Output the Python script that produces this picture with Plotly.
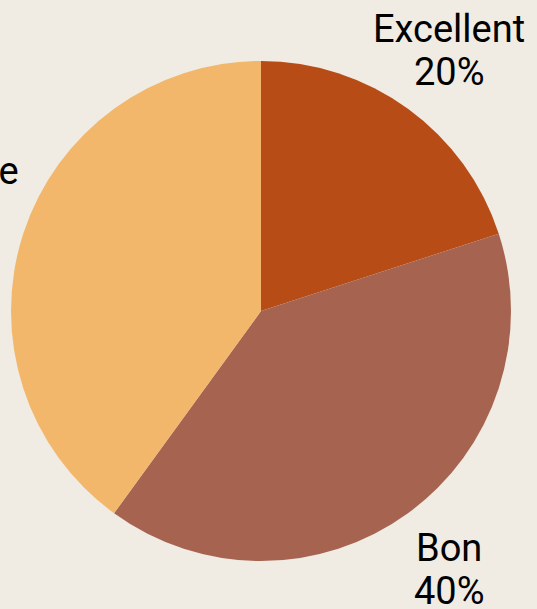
import math
import plotly.graph_objects as go

labels = ["Excellent", "Bon", "Moyenne"]
values = [20, 40, 40]
colors = ["#b84c17", "#a66450", "#f2b76b"]

FONT = dict(family="Roboto", size=38, color="#000000")
LABEL_DIST = 1.28                       # label centre distance in radii
LABEL_NUDGE = [(0, 2), (0, 0), (-15, 20)]  # small px nudges (x, up)
LINE_GAP = 43                           # px between label lines

fig = go.Figure(go.Pie(
    labels=labels,
    values=values,
    marker=dict(colors=colors),
    textinfo="none",
    sort=False,
    direction="clockwise",
    rotation=0,
    showlegend=False,
    hoverinfo="label+percent",
    domain=dict(x=[0, 1], y=[0, 1]),
))

# outside labels placed at each slice's mid angle
total = sum(values)
cum = 0
for lab, v, (nx, ny) in zip(labels, values, LABEL_NUDGE):
    mid = (cum + v / 2) / total * 2 * math.pi
    cum += v
    x = 0.5 + 0.5 * LABEL_DIST * math.sin(mid)
    y = 0.5 + 0.5 * LABEL_DIST * math.cos(mid)
    pct = f"{round(v / total * 100)}%"
    for txt, shift in ((lab, LINE_GAP / 2), (pct, -LINE_GAP / 2)):
        fig.add_annotation(
            x=x, y=y, xref="paper", yref="paper",
            text=txt, showarrow=False, font=FONT,
            xanchor="center", yanchor="middle",
            xshift=nx, yshift=shift + ny,
        )

fig.update_layout(
    width=537, height=609,
    paper_bgcolor="#f0ebe3",
    plot_bgcolor="#f0ebe3",
    margin=dict(l=11, r=26, t=61, b=48),
)
fig.write_html(
    "out.html",
    config={"displayModeBar": False},
    post_script="document.body.style.margin='0';",
)
